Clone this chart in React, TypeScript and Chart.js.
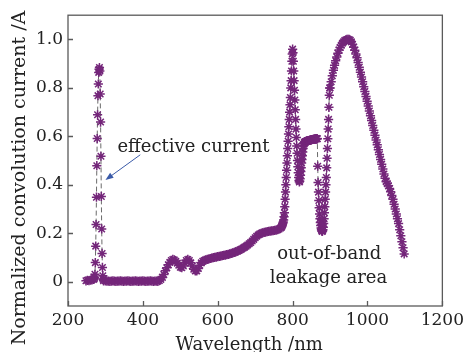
import { useEffect, useRef } from "react";
import { Chart, registerables } from "chart.js";

Chart.register(...registerables);

// ---------- data ----------
const xTicks = [200, 400, 600, 800, 1000, 1200];
const yTicks = [0, 0.2, 0.4, 0.6, 0.8, 1.0];
const yTickLabels = ["0", "0.2", "0.4", "0.6", "0.8", "1.0"];

// sampling grids (start wavelength / step in nm) with read-off values
const seg1Start = 248, seg1Step = 4;
const seg1Values = [0.004, 0.006, 0.005, 0.007, 0.008, 0.01];

const seg2Start = 270, seg2Step = 1;
const seg2Values = [
  0.012, 0.018, 0.031, 0.079, 0.147, 0.236, 0.349, 0.479, 0.591, 0.689,
  0.768, 0.816, 0.864, 0.877, 0.884, 0.87, 0.775, 0.659, 0.518, 0.352,
  0.218, 0.117, 0.059, 0.025, 0.01, 0.004,
];

const seg3Start = 300, seg3Step = 4;
const seg3Values = [
  0.004, 0.003, 0.003, 0.002, 0.003, 0.004, 0.003, 0.002, 0.003, 0.003,
  0.004, 0.003, 0.002, 0.003, 0.003, 0.004, 0.003, 0.002, 0.003, 0.003,
  0.004, 0.003, 0.002, 0.003, 0.003, 0.004, 0.003, 0.002, 0.003, 0.003,
  0.004, 0.003, 0.002, 0.003, 0.003,
];

const seg4Start = 440, seg4Step = 4;
const seg4Values = [
  0.002, 0.005, 0.01, 0.018, 0.03, 0.045, 0.058, 0.07, 0.08, 0.088,
  0.092, 0.09, 0.085, 0.077, 0.068, 0.06, 0.058, 0.065, 0.078, 0.088,
  0.092, 0.088, 0.078, 0.065, 0.052, 0.045, 0.045, 0.055, 0.068, 0.078,
  0.085, 0.088, 0.09, 0.092, 0.094, 0.096, 0.098, 0.1, 0.101, 0.102,
  0.104, 0.105, 0.106, 0.108, 0.109, 0.11, 0.112, 0.113, 0.115, 0.117,
  0.119, 0.121, 0.123, 0.126, 0.129, 0.132, 0.135, 0.139, 0.143, 0.147,
  0.152, 0.157, 0.162, 0.168, 0.175, 0.182, 0.188, 0.193, 0.197, 0.2,
  0.202, 0.204, 0.205, 0.207, 0.208, 0.209, 0.21, 0.211, 0.212, 0.213,
  0.215, 0.218, 0.222,
];

const seg5Start = 770, seg5Step = 1;
const seg5Values = [
  0.225, 0.228, 0.232, 0.236, 0.241, 0.247, 0.255, 0.268, 0.285, 0.31,
  0.34, 0.37, 0.4, 0.43, 0.46, 0.49, 0.52, 0.55, 0.58, 0.61,
  0.64, 0.67, 0.7, 0.73, 0.76, 0.8, 0.83, 0.87, 0.91, 0.94,
  0.96, 0.945, 0.91, 0.87, 0.83, 0.79, 0.75, 0.71, 0.67, 0.63,
  0.595, 0.56, 0.53, 0.5, 0.475, 0.45, 0.43, 0.418, 0.412, 0.415,
  0.425, 0.44, 0.455, 0.47, 0.49, 0.505, 0.52, 0.535, 0.55, 0.56,
  0.568, 0.574, 0.576, 0.577, 0.578, 0.578, 0.579, 0.58, 0.58, 0.581,
  0.581, 0.582, 0.582, 0.583, 0.583, 0.584, 0.584, 0.585, 0.585, 0.585,
  0.586, 0.586, 0.587, 0.587, 0.587, 0.588, 0.588, 0.588, 0.589, 0.589,
  0.589, 0.59, 0.59, 0.59, 0.59, 0.591, 0.59, 0.477, 0.41, 0.37,
  0.335, 0.305, 0.28, 0.26, 0.245, 0.232, 0.222, 0.215, 0.21, 0.208,
  0.21, 0.215, 0.225, 0.24, 0.26, 0.285, 0.31, 0.34, 0.37, 0.4,
  0.43, 0.47, 0.51, 0.55, 0.59, 0.63, 0.67, 0.72, 0.77, 0.8,
];

const seg6Start = 900, seg6Step = 3;
const seg6Values = [
  0.8, 0.825, 0.85, 0.873, 0.893, 0.912, 0.928, 0.943, 0.956, 0.967,
  0.976, 0.984, 0.99, 0.995, 0.998, 1.0, 1.0, 1.0, 0.997, 0.99,
  0.98, 0.968, 0.955, 0.94, 0.924, 0.905, 0.885, 0.865, 0.845, 0.825,
  0.805, 0.785, 0.765, 0.745, 0.725, 0.705, 0.685, 0.665, 0.645, 0.625,
  0.605, 0.585, 0.565, 0.545, 0.525, 0.505, 0.485, 0.465, 0.445, 0.427,
  0.413, 0.405, 0.396, 0.385, 0.371, 0.356, 0.34, 0.32, 0.3, 0.28,
  0.26, 0.24, 0.215, 0.19, 0.165, 0.14, 0.115,
];

// annotation anchors (data units)
const effectiveText = "effective current";
const effectiveAt = { x: 332, y: 0.536 };
const arrowFrom = { x: 393, y: 0.524 };
const arrowTo = { x: 300, y: 0.42 };
const leakageLines = ["out-of-band", "leakage area"];
const leakageAt = [
  { x: 898, y: 0.092 },
  { x: 896, y: -0.006 },
];

const xTitle = "Wavelength /nm";
const yTitle = "Normalized convolution current /A";

const FONT = "'DejaVu Serif', 'Liberation Serif', serif";
const PURPLE = "#74267a";

function build(start: number, step: number, values: number[]) {
  return values.map((v, i) => ({ x: start + i * step, y: v }));
}

const decorPlugin = {
  id: "decor",
  afterDraw(chart: any) {
    const { ctx, chartArea: a, scales } = chart;
    const xs = scales.x;
    const ys = scales.y;
    ctx.save();
    // frame
    ctx.strokeStyle = "#5a5a5a";
    ctx.lineWidth = 1.3;
    ctx.strokeRect(a.left, a.top, a.right - a.left, a.bottom - a.top);
    // inward ticks
    ctx.beginPath();
    xTicks.forEach((v) => {
      const px = Math.round(xs.getPixelForValue(v)) + 0.5;
      ctx.moveTo(px, a.bottom);
      ctx.lineTo(px, a.bottom - 5);
    });
    yTicks.forEach((v) => {
      const py = Math.round(ys.getPixelForValue(v)) + 0.5;
      ctx.moveTo(a.left, py);
      ctx.lineTo(a.left + 5, py);
    });
    ctx.stroke();

    // annotations
    ctx.fillStyle = "#222";
    ctx.font = `18px ${FONT}`;
    ctx.textBaseline = "alphabetic";
    ctx.textAlign = "left";
    ctx.fillText(effectiveText, xs.getPixelForValue(effectiveAt.x), ys.getPixelForValue(effectiveAt.y));
    ctx.textAlign = "center";
    leakageLines.forEach((t, i) => {
      ctx.fillText(t, xs.getPixelForValue(leakageAt[i].x), ys.getPixelForValue(leakageAt[i].y));
    });

    // arrow
    const x1 = xs.getPixelForValue(arrowFrom.x), y1 = ys.getPixelForValue(arrowFrom.y);
    const x2 = xs.getPixelForValue(arrowTo.x), y2 = ys.getPixelForValue(arrowTo.y);
    const ang = Math.atan2(y2 - y1, x2 - x1);
    ctx.strokeStyle = "#3a5aa8";
    ctx.fillStyle = "#3a5aa8";
    ctx.lineWidth = 1;
    ctx.beginPath();
    ctx.moveTo(x1, y1);
    ctx.lineTo(x2 - 5 * Math.cos(ang), y2 - 5 * Math.sin(ang));
    ctx.stroke();
    ctx.beginPath();
    ctx.moveTo(x2, y2);
    ctx.lineTo(x2 - 8 * Math.cos(ang) + 3 * Math.sin(ang), y2 - 8 * Math.sin(ang) - 3 * Math.cos(ang));
    ctx.lineTo(x2 - 8 * Math.cos(ang) - 3 * Math.sin(ang), y2 - 8 * Math.sin(ang) + 3 * Math.cos(ang));
    ctx.closePath();
    ctx.fill();

    // axis titles
    ctx.fillStyle = "#222";
    ctx.font = `18px ${FONT}`;
    ctx.textAlign = "center";
    ctx.textBaseline = "alphabetic";
    ctx.fillText(xTitle, (a.left + a.right) / 2 - 6, 350);
    ctx.save();
    ctx.translate(25, 178);
    ctx.rotate(-Math.PI / 2);
    ctx.font = `19px ${FONT}`;
    ctx.fillText(yTitle, 0, 0);
    ctx.restore();

    ctx.restore();
  },
};

export default function App() {
  const ref = useRef<HTMLCanvasElement | null>(null);
  useEffect(() => {
    document.body.style.margin = "0";
    const canvas = ref.current;
    if (!canvas) return;
    const data = [
      ...build(seg1Start, seg1Step, seg1Values),
      ...build(seg2Start, seg2Step, seg2Values),
      ...build(seg3Start, seg3Step, seg3Values),
      ...build(seg4Start, seg4Step, seg4Values),
      ...build(seg5Start, seg5Step, seg5Values),
      ...build(seg6Start, seg6Step, seg6Values),
    ];
    const chart = new Chart(canvas, {
      type: "scatter",
      data: {
        datasets: [
          {
            data,
            showLine: true,
            borderColor: "#6a6a6a",
            borderWidth: 1,
            borderDash: [5, 3],
            pointStyle: "star",
            pointRadius: 4.6,
            pointBorderWidth: 1.5,
            pointBorderColor: PURPLE,
            pointBackgroundColor: PURPLE,
          } as any,
        ],
      },
      options: {
        responsive: false,
        animation: false,
        layout: { padding: { top: 14, right: 22, left: 0, bottom: 0 } },
        plugins: { legend: { display: false }, tooltip: { enabled: false } },
        scales: {
          x: {
            type: "linear",
            min: 200,
            max: 1200,
            afterBuildTicks: (s: any) => {
              s.ticks = xTicks.map((v) => ({ value: v }));
            },
            afterFit: (s: any) => {
              s.height = 46;
            },
            grid: { display: false, drawTicks: false },
            border: { display: false },
            ticks: {
              font: { family: FONT, size: 17 },
              color: "#222",
              padding: 4,
              maxRotation: 0,
              autoSkip: false,
              callback: (v: any) => String(v),
            },
          },
          y: {
            type: "linear",
            min: -0.1,
            max: 1.1,
            afterBuildTicks: (s: any) => {
              s.ticks = yTicks.map((v) => ({ value: v }));
            },
            afterFit: (s: any) => {
              s.width = 68;
            },
            grid: { display: false, drawTicks: false },
            border: { display: false },
            ticks: {
              font: { family: FONT, size: 17 },
              color: "#222",
              padding: 5,
              autoSkip: false,
              callback: (_v: any, i: number) => yTickLabels[i],
            },
          },
        },
      },
      plugins: [decorPlugin],
    });
    return () => chart.destroy();
  }, []);
  return <canvas ref={ref} width={468} height={352} style={{ display: "block" }} />;
}
